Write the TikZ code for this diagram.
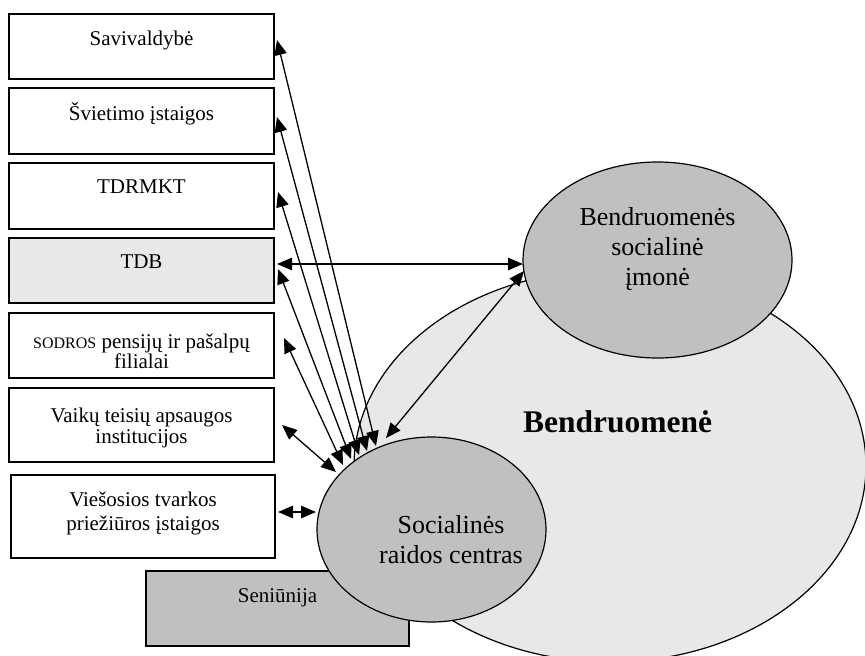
\documentclass[tikz,border=0pt]{standalone}
\usepackage{fontspec}
\setmainfont{Liberation Serif}
\usetikzlibrary{arrows.meta,shapes.geometric}
\definecolor{lightg}{HTML}{E8E8E8}
\definecolor{midg}{HTML}{C0C0C0}
\begin{document}
\begin{tikzpicture}[x=1pt,y=-1pt,
  box/.style={draw, line width=1.4pt, rectangle, inner sep=0pt, fill=white},
  oval/.style={draw, line width=1.2pt, ellipse, inner sep=0pt},
  btxt/.style={anchor=base, inner sep=0pt, font=\fontsize{21}{24}\selectfont},
  etxt/.style={anchor=base, inner sep=0pt, font=\fontsize{26}{30}\selectfont},
  conn/.style={line width=1.3pt, {Triangle[length=15pt,width=12.5pt]}-{Triangle[length=15pt,width=12.5pt]}}]
\useasboundingbox (0,0) rectangle (865,656);
\clip (0,0) rectangle (865,656);
% boxes
\node[box, minimum width=265pt, minimum height=65pt] (b1) at (141.5,46.5) {};
\node[box, minimum width=265pt, minimum height=66pt] (b2) at (141.5,121) {};
\node[box, minimum width=265pt, minimum height=66pt] (b3) at (141.5,196) {};
\node[box, fill=lightg, minimum width=265pt, minimum height=65pt] (b4) at (141.5,270.5) {};
\node[box, minimum width=265pt, minimum height=65pt] (b5) at (141.5,345.5) {};
\node[box, minimum width=265pt, minimum height=74pt] (b6) at (141.5,425) {};
\node[box, minimum width=264pt, minimum height=83pt] (b7) at (143,516.5) {};
\node[box, fill=midg, minimum width=263pt, minimum height=75pt] (b8) at (277.5,608.5) {};
% ellipses
\node[oval, fill=lightg, minimum width=512pt, minimum height=392pt] (bend) at (610,466) {};
\node[oval, fill=midg, minimum width=269pt, minimum height=196pt] (bsi) at (657.5,260) {};
\node[oval, fill=midg, minimum width=229pt, minimum height=185pt] (src) at (431.5,529.5) {};
% texts
\node[btxt] (t1) at (141.5,45) {Savivaldybė};
\node[btxt] (t2) at (141.5,120) {Švietimo įstaigos};
\node[btxt] (t3) at (141.5,193) {TDRMKT};
\node[btxt] (t4) at (141.5,268) {TDB};
\node[btxt] (t5a) at (141.5,348) {{\fontsize{16}{18}\selectfont SODROS} pensijų ir pašalpų};
\node[btxt] (t5b) at (141.5,368) {filialai};
\node[btxt] (t6a) at (141.5,422) {Vaikų teisių apsaugos};
\node[btxt] (t6b) at (141.5,443) {institucijos};
\node[btxt] (t7a) at (143,506) {Viešosios tvarkos};
\node[btxt] (t7b) at (143,530) {priežiūros įstaigos};
\node[btxt] (t8) at (277.5,602) {Seniūnija};
\node[etxt] (e1a) at (657.5,225) {Bendruomenės};
\node[etxt] (e1b) at (657.5,255) {socialinė};
\node[etxt] (e1c) at (657.5,285) {įmonė};
\node[etxt] (e2a) at (451,533) {Socialinės};
\node[etxt] (e2b) at (451,563) {raidos centras};
\node[anchor=base, inner sep=0pt, font=\fontsize{31.5}{36}\selectfont\bfseries] (e3) at (617.5,432) {Bendruomenė};
% connector ends
\coordinate (a1t) at (277,40);   \coordinate (a1b) at (376,446);
\coordinate (a2t) at (277,117);  \coordinate (a2b) at (367,451);
\coordinate (a3t) at (278,192);  \coordinate (a3b) at (359,455);
\coordinate (a4t) at (278,269);  \coordinate (a4b) at (351,459);
\coordinate (a5t) at (284,338);  \coordinate (a5b) at (343,465);
\coordinate (a6t) at (282,425);  \coordinate (a6b) at (336,472);
\coordinate (a7l) at (278,512);  \coordinate (a7r) at (316,512);
\coordinate (a8l) at (277,264);  \coordinate (a8r) at (523,264);
\coordinate (a9a) at (386,438);  \coordinate (a9b) at (524,271);
% connectors
\draw[conn] (a1t) -- (a1b);
\draw[conn] (a2t) -- (a2b);
\draw[conn] (a3t) -- (a3b);
\draw[conn] (a4t) -- (a4b);
\draw[conn] (a5t) -- (a5b);
\draw[conn] (a6t) -- (a6b);
\draw[conn] (a7l) -- (a7r);
\draw[conn] (a8l) -- (a8r);
\draw[conn] (a9a) -- (a9b);
\end{tikzpicture}
\end{document}
